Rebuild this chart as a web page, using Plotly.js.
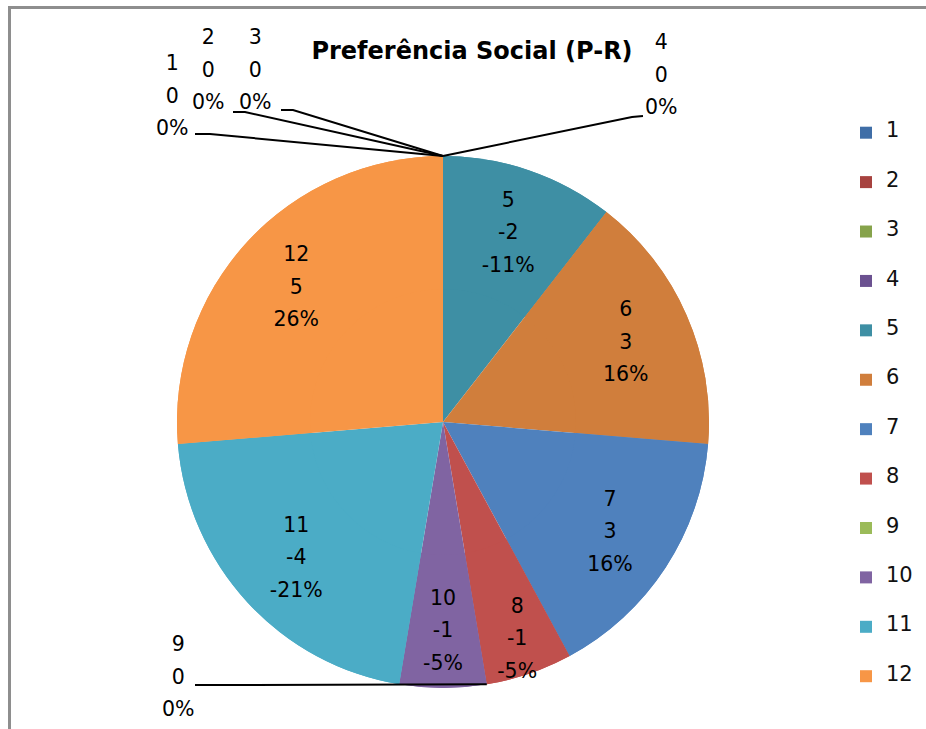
<!DOCTYPE html>
<html><head><meta charset="utf-8">
<script src="https://cdn.plot.ly/plotly-3.0.1.min.js"></script>
<style>
html,body{margin:0;padding:0;background:#fff;overflow:hidden;}
#chart{width:926px;height:729px;}
#frame{position:absolute;left:8px;top:6px;width:940px;height:760px;border-left:3px solid #8e8e8e;border-top:3px solid #8e8e8e;pointer-events:none;}
</style>
</head><body>
<div id="chart"></div><div id="frame"></div>
<script>
// ---- data ----
const categories = ['1','2','3','4','5','6','7','8','9','10','11','12'];
const values = [0, 0, 0, 0, -2, 3, 3, -1, 0, -1, -4, 5];
const colors = ['#3F6EA7','#A7423F','#86A34B','#6B5190','#3E8FA4','#D07E3C',
                '#4F81BD','#C0504D','#9BBB59','#8064A2','#4BACC6','#F79646'];
const chartTitle = 'Preferência Social (P-R)';

// ---- layout helpers ----
const W = 926, H = 729;
const cx = 443, cy = 422, R = 266;
const FONT = 'DejaVu Sans, sans-serif';
const px = x => x / W;
const py = y => 1 - y / H;
const dom = {x: [px(cx - R), px(cx + R)], y: [py(cy + R), py(cy - R)]};

const sizes = values.map(v => Math.abs(v));
const total = sizes.reduce((a, b) => a + b, 0);
const pcts = values.map(v => Math.round(v / total * 100));
const sp = t => `<span style="font-size:20.5px">${t}</span>`;
const lbl = (i) => `${sp(categories[i])}<br>${sp(values[i])}<br>${sp(pcts[i] + '%')}`;
const sliceText = values.map((v, i) => v === 0 ? '' : lbl(i));
const legendText = categories.map(c => `&nbsp;<br><span style="font-size:21px">${c}</span><br>&nbsp;`);

// label placement for zero-size slices (layout only)
const zeroLabelPos = {
  0: {x: 172, y: 95, elbow: [[195, 134], [210, 134]]},
  1: {x: 208, y: 70, elbow: [[233, 112], [245, 112]]},
  2: {x: 255, y: 70, elbow: [[281, 110], [293, 110]]},
  3: {x: 661, y: 75, elbow: [[643, 116], [632, 117]]},
  8: {x: 178, y: 676, elbow: [[195, 685], [205, 685]]}
};

const annotations = [], shapes = [];
let cum = 0;
values.forEach((v, i) => {
  if (v === 0 && zeroLabelPos[i]) {
    const p = zeroLabelPos[i];
    const th = cum / total * 2 * Math.PI;
    const tx = cx + R * Math.sin(th), ty = cy - R * Math.cos(th);
    annotations.push({
      xref: 'paper', yref: 'paper', x: px(p.x), y: py(p.y),
      xanchor: 'center', yanchor: 'middle', showarrow: false,
      text: lbl(i), font: {family: FONT, size: 25, color: '#000'}
    });
    const pts = p.elbow.concat([[tx, ty]]);
    shapes.push({
      type: 'path', xref: 'paper', yref: 'paper',
      path: pts.map((q, k) => (k ? 'L' : 'M') + px(q[0]) + ',' + py(q[1])).join(' '),
      line: {color: '#000', width: 2}
    });
  }
  cum += sizes[i];
});

const base = {
  type: 'pie', values: sizes, labels: legendText, sort: false,
  direction: 'clockwise', rotation: 0, domain: dom,
  marker: {colors: colors, line: {width: 0}}
};

const traces = [
  Object.assign({}, base, {textinfo: 'none', showlegend: false, hoverinfo: 'skip'}),
  Object.assign({}, base, {
    hole: 0.5, text: sliceText, texttemplate: '%{text}', textposition: 'inside',
    insidetextorientation: 'horizontal',
    textfont: {family: FONT, size: 25, color: '#000'}, hoverinfo: 'skip'
  })
];

const layout = {
  width: W, height: H,
  margin: {l: 0, r: 0, t: 0, b: 0},
  paper_bgcolor: '#fff',
  title: {text: '<b>' + chartTitle + '</b>', x: px(472), xanchor: 'center',
          yref: 'container', y: py(51), yanchor: 'middle',
          font: {family: FONT, size: 24, color: '#000'}},
  showlegend: true,
  legend: {x: px(846), xanchor: 'left', y: py(103), yanchor: 'top',
           font: {family: FONT, size: 11.9, color: '#111'}, bgcolor: 'rgba(0,0,0,0)',
           traceorder: 'normal'},
  uniformtext: {mode: 'show', minsize: 25},
  annotations: annotations,
  shapes: shapes
};

Plotly.newPlot('chart', traces, layout, {displayModeBar: false, staticPlot: true});
</script>
</body></html>
